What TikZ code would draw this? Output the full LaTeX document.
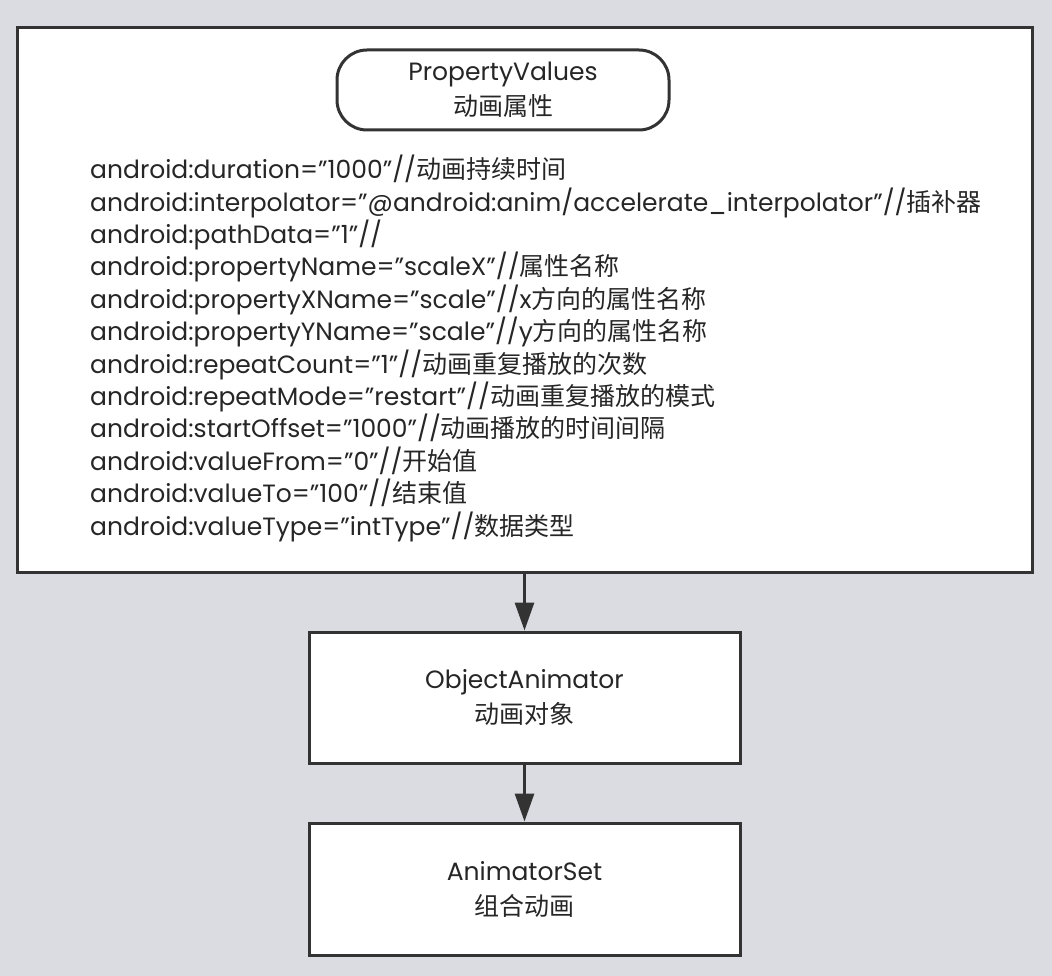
\documentclass[tikz,border=0pt]{standalone}
\usepackage{fontspec}
\setmainfont{Poppins}
\newfontfamily\cjk{Noto Sans CJK SC}
\usetikzlibrary{positioning,arrows.meta}

\definecolor{bggray}{RGB}{219,220,225}
\definecolor{linegray}{RGB}{51,51,51}

\tikzset{
  flowbox/.style={draw=linegray, line width=3pt, fill=white, align=center,
    text=black!85, font=\fontsize{25}{35}\selectfont},
  flowarrow/.style={draw=linegray, line width=3pt, -{Triangle[length=28pt,width=19pt]}}
}

\begin{document}
\begin{tikzpicture}[x=1pt,y=-1pt]
      \fill [bggray] (0,0) rectangle (1052,976); % Background.
      \node [flowbox, minimum width=1015pt, minimum height=544pt] (values) at (524.5,300) {};
      \node [flowbox, rounded corners=30pt, minimum width=332pt, minimum height=80pt] (title) at (503,90)
        {PropertyValues\\\cjk 动画属性};
      \node [anchor=north west, inner sep=0pt, align=left, text=black!85,
        font=\fontsize{25}{32.4}\selectfont] (attrs) at (90,155) {%
        android:duration="1000"//\cjk{动画持续时间}\\
        android:interpolator="@android:anim/accelerate\_interpolator"//\cjk{插补器}\\
        android:pathData="1"//\\
        android:propertyName="scaleX"//\cjk{属性名称}\\
        android:propertyXName="scale"//x\cjk{方向的属性名称}\\
        android:propertyYName="scale"//y\cjk{方向的属性名称}\\
        android:repeatCount="1"//\cjk{动画重复播放的次数}\\
        android:repeatMode="restart"//\cjk{动画重复播放的模式}\\
        android:startOffset="1000"//\cjk{动画播放的时间间隔}\\
        android:valueFrom="0"//\cjk{开始值}\\
        android:valueTo="100"//\cjk{结束值}\\
        android:valueType="intType"//\cjk{数据类型}};

      \node [flowbox, minimum width=431pt, minimum height=131pt] (object) at (524.5,697.5)
        {ObjectAnimator\\\cjk 动画对象};
      \node [flowbox, minimum width=431pt, minimum height=132pt] (set) at (524.5,889)
        {AnimatorSet\\\cjk 组合动画};

      \draw [flowarrow] (values.south) -- (object.north);
      \draw [flowarrow] (object.south) -- (set.north);
    \end{tikzpicture}
\end{document}
